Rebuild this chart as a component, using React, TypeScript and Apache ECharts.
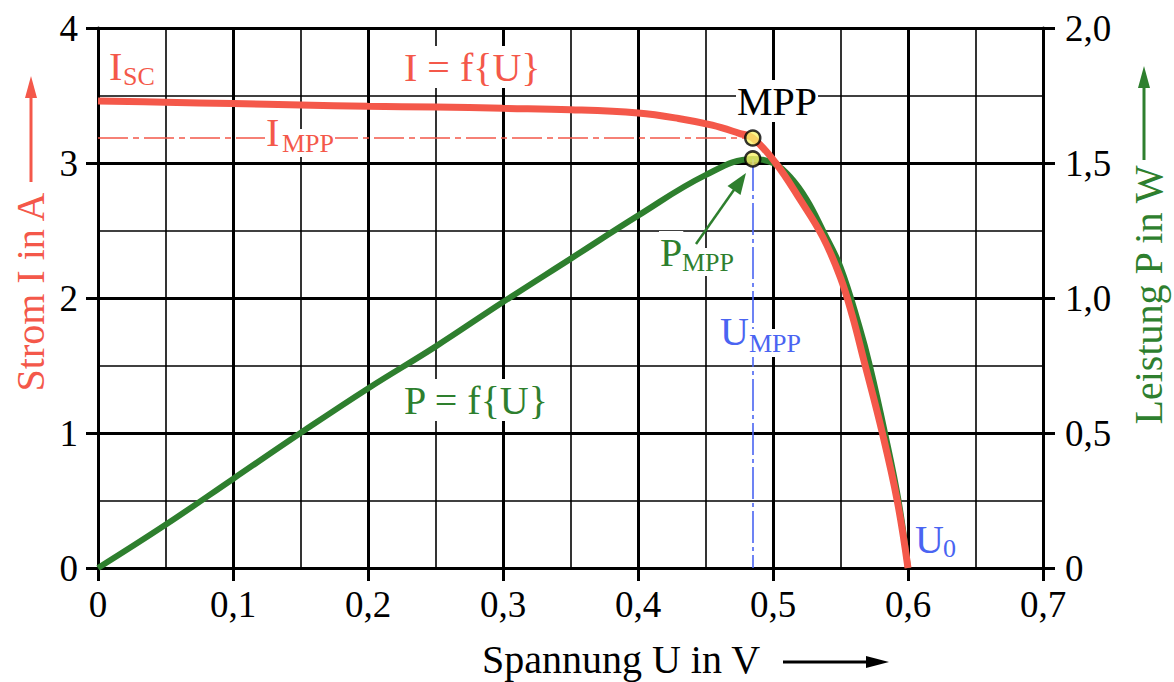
import React, { useEffect, useRef } from "react";
import * as echarts from "echarts";

// ---- data ----
const U_CURRENT = [0, 0.05, 0.1, 0.15, 0.2, 0.25, 0.3, 0.35, 0.4, 0.43, 0.455, 0.475, 0.485, 0.502, 0.52, 0.537, 0.55, 0.559, 0.567, 0.581, 0.592, 0.6];
const I_CURRENT = [3.46, 3.45, 3.44, 3.43, 3.42, 3.415, 3.405, 3.395, 3.37, 3.33, 3.28, 3.22, 3.185, 3.0, 2.73, 2.45, 2.15, 1.86, 1.55, 1.0, 0.5, 0];

const U_POWER = [0, 0.05, 0.1, 0.15, 0.2, 0.25, 0.3, 0.35, 0.4, 0.45, 0.485, 0.5, 0.5125, 0.525, 0.537, 0.55, 0.564, 0.572, 0.583, 0.593, 0.6];
const P_POWER = [0, 0.16, 0.33, 0.5, 0.665, 0.82, 0.985, 1.145, 1.305, 1.455, 1.515, 1.5, 1.45, 1.365, 1.25, 1.115, 0.895, 0.745, 0.5, 0.25, 0];

const U_MPP = 0.485;
const I_MPP = 3.185;
const P_MPP = 1.515;

const X_TICKS = ["0", "0,1", "0,2", "0,3", "0,4", "0,5", "0,6", "0,7"];
const Y_LEFT_TICKS = ["0", "1", "2", "3", "4"];
const Y_RIGHT_TICKS = ["0", "0,5", "1,0", "1,5", "2,0"];

// ---- styles ----
const FONT = '"Liberation Serif", "Times New Roman", serif';
const RED = "#f4584a";
const GREEN = "#2e7f2e";
const BLUE = "#4a64f2";
const TICK_FONT = 37;
const ANN = 40;
const SUB = 26;

function txt(x: number, y: number, text: string, size: number, color: string, bg = true) {
  return {
    type: "text",
    x,
    y,
    z: 100,
    style: {
      text,
      font: `${size}px ${FONT}`,
      fill: color,
      align: "left",
      verticalAlign: "middle",
      backgroundColor: bg ? "#ffffff" : "transparent",
      padding: bg ? [1, 1] : 0,
    },
  };
}

export default function App() {
  const ref = useRef<HTMLDivElement>(null);
  useEffect(() => {
    if (!ref.current) return;
    const chart = echarts.init(ref.current, null, { renderer: "svg" });
    const curData = U_CURRENT.map((u, i) => [u, I_CURRENT[i]]);
    const powData = U_POWER.map((u, i) => [u, P_POWER[i]]);
    const axisLabelBase = { color: "#000", fontFamily: FONT, fontSize: TICK_FONT };
    const option: any = {
      animation: false,
      backgroundColor: "#ffffff",
      grid: { left: 98, right: 131, top: 28, bottom: 114, containLabel: false },
      xAxis: {
        type: "value",
        min: 0,
        max: 0.7,
        interval: 0.1,
        axisLine: { show: true, onZero: false, lineStyle: { color: "#000", width: 3 } },
        axisTick: { show: true, length: 13, lineStyle: { color: "#000", width: 3 } },
        axisLabel: {
          ...axisLabelBase,
          margin: 18,
          formatter: (v: number) => X_TICKS[Math.round(v * 10)] ?? "",
        },
        splitLine: { show: true, lineStyle: { color: "#000", width: 3 } },
        minorTick: { show: false, splitNumber: 2 },
        minorSplitLine: { show: true, lineStyle: { color: "#000", width: 1.6 } },
      },
      yAxis: [
        {
          type: "value",
          min: 0,
          max: 4,
          interval: 1,
          position: "left",
          axisLine: { show: true, onZero: false, lineStyle: { color: "#000", width: 3 } },
          axisTick: { show: true, length: 12, lineStyle: { color: "#000", width: 3 } },
          axisLabel: {
            ...axisLabelBase,
            margin: 20,
            formatter: (v: number) => Y_LEFT_TICKS[Math.round(v)] ?? "",
          },
          splitLine: { show: true, lineStyle: { color: "#000", width: 3 } },
          minorTick: { show: false, splitNumber: 2 },
          minorSplitLine: { show: true, lineStyle: { color: "#000", width: 1.6 } },
        },
        {
          type: "value",
          min: 0,
          max: 2,
          interval: 0.5,
          position: "right",
          axisLine: { show: true, onZero: false, lineStyle: { color: "#000", width: 3 } },
          axisTick: { show: true, length: 12, lineStyle: { color: "#000", width: 3 } },
          axisLabel: {
            ...axisLabelBase,
            margin: 22,
            formatter: (v: number) => Y_RIGHT_TICKS[Math.round(v * 2)] ?? "",
          },
          splitLine: { show: false },
        },
      ],
      series: [
        {
          name: "I = f{U}",
          type: "line",
          xAxisIndex: 0,
          yAxisIndex: 0,
          data: curData,
          smooth: 0.4,
          showSymbol: false,
          symbol: "none",
          lineStyle: { color: RED, width: 7 },
          itemStyle: { color: RED },
          z: 4,
          markLine: {
            silent: true,
            symbol: "none",
            label: { show: false },
            lineStyle: { color: RED, width: 1.6, type: [30, 5, 6, 5] },
            data: [[{ coord: [0, I_MPP] }, { coord: [U_MPP, I_MPP] }]],
          },
        },
        {
          name: "P = f{U}",
          type: "line",
          xAxisIndex: 0,
          yAxisIndex: 1,
          data: powData,
          smooth: 0.4,
          showSymbol: false,
          symbol: "none",
          lineStyle: { color: GREEN, width: 6 },
          itemStyle: { color: GREEN },
          z: 3,
          markLine: {
            silent: true,
            symbol: "none",
            label: { show: false },
            lineStyle: { color: BLUE, width: 1.6, type: [32, 4, 4, 4] },
            data: [[{ coord: [U_MPP, P_MPP] }, { coord: [U_MPP, 0] }]],
          },
        },
        {
          type: "scatter",
          xAxisIndex: 0,
          yAxisIndex: 0,
          data: [[U_MPP, I_MPP]],
          symbol: "circle",
          symbolSize: 15,
          itemStyle: { color: "#f7f26b", borderColor: "#000", borderWidth: 2.5 },
          z: 10,
        },
        {
          type: "scatter",
          xAxisIndex: 0,
          yAxisIndex: 1,
          data: [[U_MPP, P_MPP]],
          symbol: "circle",
          symbolSize: 15,
          itemStyle: { color: "#f7f26b", borderColor: "#000", borderWidth: 2.5 },
          z: 10,
        },
      ],
      graphic: [
        // I_SC
        txt(109, 66, "I", ANN, RED, false),
        txt(123, 76, "SC", SUB, RED, false),
        // I = f{U}
        txt(403, 67, "I = f{U}", ANN, RED),
        // I_MPP
        txt(265, 132, "I", ANN, RED),
        txt(281, 143, "MPP", SUB, RED),
        // MPP
        txt(736, 101, "MPP", ANN, "#000"),
        // P_MPP
        txt(659, 252, "P", ANN, GREEN),
        txt(681, 262, "MPP", SUB, GREEN),
        // U_MPP
        txt(719, 331, "U", ANN, BLUE),
        txt(748, 343, "MPP", SUB, BLUE),
        // U_0
        txt(915, 539, "U", ANN, BLUE, false),
        txt(943, 548, "0", SUB, BLUE, false),
        // P = f{U}
        txt(403, 400, "P = f{U}", ANN, GREEN),
        // P_MPP arrow
        { type: "line", z: 100, shape: { x1: 696, y1: 244, x2: 736, y2: 187 }, style: { stroke: GREEN, lineWidth: 2.5 } },
        { type: "polygon", z: 100, shape: { points: [[746, 173], [740.5, 195], [727.5, 186]] }, style: { fill: GREEN } },
        // left axis name + arrow
        {
          type: "text",
          x: 30,
          y: 292,
          rotation: Math.PI / 2,
          z: 100,
          style: { text: "Strom I in A", font: `${ANN}px ${FONT}`, fill: RED, align: "center", verticalAlign: "middle" },
        },
        { type: "line", z: 100, shape: { x1: 31, y1: 182, x2: 31, y2: 95 }, style: { stroke: RED, lineWidth: 3 } },
        { type: "polygon", z: 100, shape: { points: [[31, 76], [25, 98], [37, 98]] }, style: { fill: RED } },
        // right axis name + arrow
        {
          type: "text",
          x: 1148,
          y: 295,
          rotation: Math.PI / 2,
          z: 100,
          style: { text: "Leistung P in W", font: `${ANN}px ${FONT}`, fill: GREEN, align: "center", verticalAlign: "middle" },
        },
        { type: "line", z: 100, shape: { x1: 1144, y1: 160, x2: 1144, y2: 86 }, style: { stroke: GREEN, lineWidth: 3 } },
        { type: "polygon", z: 100, shape: { points: [[1144, 66], [1138, 88], [1150, 88]] }, style: { fill: GREEN } },
        // bottom axis name + arrow
        {
          type: "text",
          x: 621,
          y: 659,
          z: 100,
          style: { text: "Spannung U in V", font: `${ANN}px ${FONT}`, fill: "#000", align: "center", verticalAlign: "middle" },
        },
        { type: "line", z: 100, shape: { x1: 783, y1: 662, x2: 868, y2: 662 }, style: { stroke: "#000", lineWidth: 3 } },
        { type: "polygon", z: 100, shape: { points: [[889, 662], [866, 656], [866, 668]] }, style: { fill: "#000" } },
      ],
    };
    chart.setOption(option);
    return () => chart.dispose();
  }, []);
  return (
    <div
      ref={ref}
      style={{ position: "absolute", left: 0, top: 0, width: 1174, height: 682, background: "#fff" }}
    />
  );
}
